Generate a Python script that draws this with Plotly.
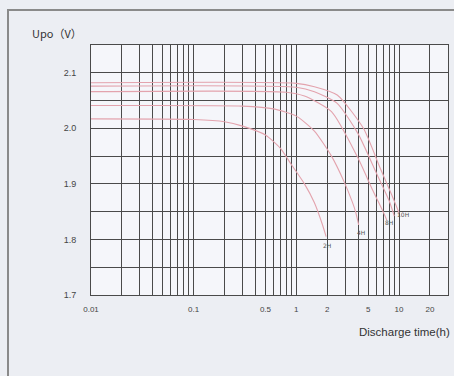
import numpy as np
import plotly.graph_objects as go

# ---- data ----
t_2h = [0.01, 0.1, 0.2, 0.3, 0.5, 0.7, 0.9, 1.2, 1.5, 1.8, 1.95]
v_2h = [2.017, 2.016, 2.012, 2.004, 1.988, 1.964, 1.934, 1.900, 1.866, 1.826, 1.805]

t_4h = [0.01, 0.3, 0.6, 1.0, 1.5, 2.2, 2.9, 3.5, 3.8, 4.05]
v_4h = [2.041, 2.040, 2.035, 2.022, 1.995, 1.950, 1.905, 1.868, 1.848, 1.826]

t_8h = [0.01, 0.8, 1.2, 2.2, 3.9, 5.5, 7.0, 7.6]
v_8h = [2.066, 2.065, 2.058, 2.030, 1.950, 1.890, 1.850, 1.835]

t_9h = [0.01, 1.0, 1.5, 2.5, 4.0, 6.0, 8.0, 9.0]
v_9h = [2.076, 2.074, 2.066, 2.045, 1.990, 1.920, 1.870, 1.842]

t_10h = [0.01, 1.0, 1.5, 2.5, 4.5, 6.5, 8.5, 10.0]
v_10h = [2.082, 2.081, 2.075, 2.060, 2.000, 1.930, 1.880, 1.848]

curves = [(t_2h, v_2h), (t_4h, v_4h), (t_8h, v_8h), (t_9h, v_9h), (t_10h, v_10h)]

label_text = ["2H", "4H", "8H", "10H"]
label_t = [2.0, 4.3, 8.0, 10.9]
label_v = [1.790, 1.813, 1.830, 1.845]

x_grid = [m * 10.0 ** e for e in (-2, -1, 0) for m in range(1, 10)] + [10, 20, 30]
x_labels = {0.01: "0.01", 0.1: "0.1", 0.5: "0.5", 1: "1", 2: "2", 5: "5", 10: "10", 20: "20"}
y_grid = [1.70, 1.75, 1.80, 1.85, 1.90, 1.95, 2.00, 2.05, 2.10, 2.15]
y_labels = {1.7: "1.7", 1.8: "1.8", 1.9: "1.9", 2.0: "2.0", 2.1: "2.1"}

x_ticktext = []
for v in x_grid:
    txt = ""
    for k, s in x_labels.items():
        if abs(v - k) < 1e-9:
            txt = s
    x_ticktext.append(txt)
y_ticktext = []
for v in y_grid:
    txt = ""
    for k, s in y_labels.items():
        if abs(v - k) < 1e-9:
            txt = s
    y_ticktext.append(txt)

fig = go.Figure()
for t, v in curves:
    fig.add_trace(go.Scatter(x=t, y=v, mode="lines", line=dict(color="#e3a3ad", width=1.1, shape="spline", smoothing=0.6),
                             hoverinfo="skip", showlegend=False))

for txt, tt, vv in zip(label_text, label_t, label_v):
    fig.add_annotation(x=np.log10(tt), y=vv, text=txt, showarrow=False,
                       font=dict(size=6, color="#555", family="DejaVu Sans"))

fig.add_annotation(xref="paper", yref="paper", x=-0.17, y=1.048, xanchor="left", yanchor="middle",
                   text="Upo（V）", showarrow=False,
                   font=dict(size=11, color="#333", family="Noto Sans CJK SC"))
fig.add_annotation(xref="paper", yref="paper", x=1.012, y=-0.115, xanchor="right", yanchor="top",
                   text="Discharge time(h)", showarrow=False,
                   font=dict(size=11.5, color="#333", family="Liberation Sans"))

fig.add_shape(type="rect", xref="paper", yref="paper", x0=-0.2325, x1=1.04, y0=-0.4, y1=1.14,
              line=dict(color="#8a8a8a", width=2), fillcolor="rgba(0,0,0,0)", layer="below")

fig.update_xaxes(type="log", range=[-2, np.log10(30)], tickmode="array", tickvals=x_grid,
                 ticktext=x_ticktext, showgrid=True, gridcolor="#4a4a4a", gridwidth=1,
                 showline=True, linecolor="#4a4a4a", linewidth=1, mirror=True, ticks="",
                 ticklabelstandoff=6,
                 tickfont=dict(size=8, color="#444", family="Liberation Sans"), zeroline=False)
fig.update_yaxes(range=[1.7, 2.15], tickmode="array", tickvals=y_grid, ticktext=y_ticktext,
                 showgrid=True, gridcolor="#4a4a4a", gridwidth=1,
                 showline=True, linecolor="#4a4a4a", linewidth=1, mirror=True, ticks="",
                 ticklabelstandoff=12,
                 tickfont=dict(size=9, color="#444", family="Liberation Sans"), zeroline=False)

fig.update_layout(width=454, height=376, margin=dict(l=91, r=6, t=45, b=81),
                  paper_bgcolor="#eceef3", plot_bgcolor="#f5f6fa", showlegend=False)

fig.write_html("out.html")
